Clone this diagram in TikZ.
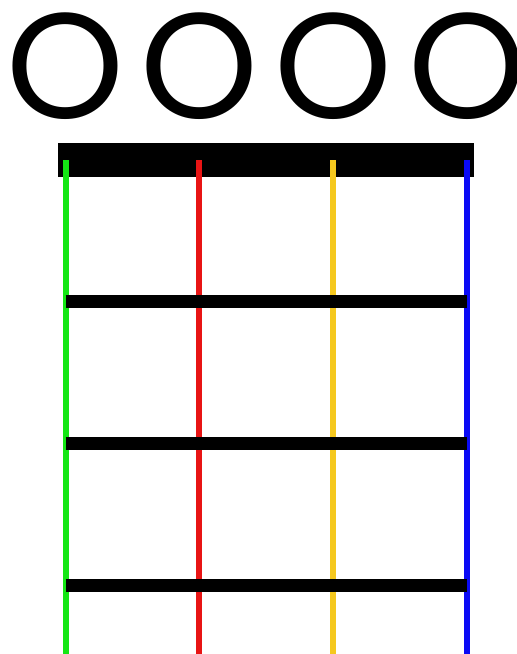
\documentclass[tikz,border=0pt]{standalone}
\usepackage{fontspec}
\newfontfamily\accfont{Poppins}

\definecolor{corda1}{RGB}{20,230,20}
\definecolor{corda2}{RGB}{232,20,20}
\definecolor{corda3}{RGB}{245,200,30}
\definecolor{corda4}{RGB}{10,10,245}

\begin{document}
\begin{tikzpicture}[x=1pt,y=-1pt,
    vuota/.style={inner sep=0pt, font=\accfont\fontsize{150}{150}\selectfont},
    corda/.style={line width=6pt},
    tasto/.style={line width=13pt, black}]

        % Area del disegno
        \useasboundingbox (0,0) rectangle (517,654);

        % Capotasto
        \fill[black] (58,143) rectangle (474,177);

        % Corde (dall'alto al fondo)
        \foreach \i/\x in {1/65.5, 2/199, 3/333, 4/467} {
            \coordinate (c\i) at (\x,160);
            \coordinate (f\i) at (\x,654);
            \draw[corda, corda\i] (c\i) -- (f\i);
        }

        % Tasti
        \foreach \y [count=\k] in {301, 443, 585} {
            \coordinate (t\k a) at (65.5,\y);
            \coordinate (t\k b) at (467,\y);
            \draw[tasto] (t\k a) -- (t\k b);
        }

        % Corde vuote
        \node[vuota] (o1) at (65.5,66) {O};
        \node[vuota] (o2) at (199,66) {O};
        \node[vuota] (o3) at (333,66) {O};
        \node[vuota] (o4) at (467,66) {O};

    \end{tikzpicture}
\end{document}
